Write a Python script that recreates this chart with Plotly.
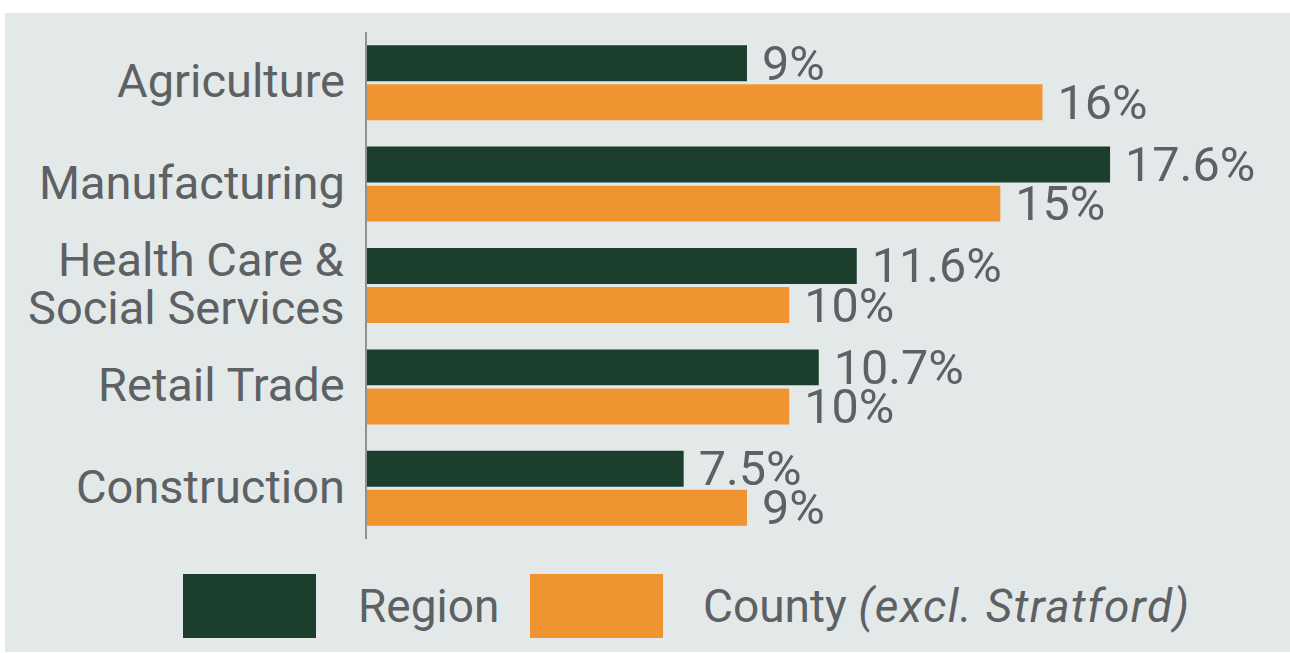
import plotly.graph_objects as go

categories = ["Agriculture", "Manufacturing", "Health Care &\nSocial Services", "Retail Trade", "Construction"]
region_values = [9, 17.6, 11.6, 10.7, 7.5]
county_values = [16, 15, 10, 10, 9]
series_names = ["Region", "County <span style=\"letter-spacing:1.4px\"><i>(excl. Stratford)</i></span>"]
series_colors = ["#1b3f2c", "#ef9430"]

W, H = 1290, 653
ML, MR, MT, MB = 367, 30, 32, 114
PW, PH = W - ML - MR, H - MT - MB
TEXT = "#5e6163"
FONT = "Roboto"

def px_x(p):
    return (p - ML) / PW

def px_y(p):
    return (H - MB - p) / PH

cat_ids = [c.replace("\n", " ") for c in categories]

fig = go.Figure()
for name, vals, col in zip(series_names, [region_values, county_values], series_colors):
    fig.add_trace(go.Bar(
        y=cat_ids, x=vals, orientation="h", name=name,
        marker=dict(color=col, line=dict(width=0)),
        text=[f" {v:g}%" for v in vals], textposition="outside",
        textfont=dict(family=FONT, size=48.5, color=TEXT),
        constraintext="none", cliponaxis=False, showlegend=False,
        hoverinfo="skip",
    ))

annotations = []
for cid, label in zip(cat_ids, categories):
    lines = label.split("\n")
    n = len(lines)
    for i, ln in enumerate(lines):
        shift = (-(i - (n - 1) / 2) * 48) + 2
        annotations.append(dict(
            x=0, y=cid, xref="x", yref="y", text=ln, showarrow=False,
            xanchor="right", yanchor="middle", xshift=-20, yshift=shift,
            font=dict(family=FONT, size=47, color=TEXT),
        ))

# legend (custom large swatches)
shapes = [dict(type="rect", xref="paper", yref="paper", layer="below",
               x0=px_x(5), x1=px_x(1290), y0=px_y(652), y1=px_y(13),
               fillcolor="#e3e9e9", line=dict(width=0))]
legend_swatch_x = [183, 530]
legend_text_x = [356, 701]
for name, col, sx, tx in zip(series_names, series_colors, legend_swatch_x, legend_text_x):
    shapes.append(dict(type="rect", xref="paper", yref="paper",
                       x0=px_x(sx), x1=px_x(sx + 133), y0=px_y(638), y1=px_y(574),
                       fillcolor=col, line=dict(width=0)))
    annotations.append(dict(x=px_x(tx), y=px_y(606), xref="paper", yref="paper",
                            text=name, showarrow=False, xanchor="left", yanchor="middle",
                            font=dict(family=FONT, size=46, color=TEXT)))

fig.update_layout(
    width=W, height=H,
    margin=dict(l=ML, r=MR, t=MT, b=MB),
    paper_bgcolor="white", plot_bgcolor="rgba(0,0,0,0)",
    barmode="group", bargap=0.23, bargroupgap=0.08,
    shapes=shapes, annotations=annotations,
    xaxis=dict(range=[0, PW / 42.22], visible=False, fixedrange=True),
    yaxis=dict(type="category", categoryorder="array", categoryarray=cat_ids,
               range=[4.5, -0.5], showticklabels=False, ticks="",
               showline=True, linecolor="#8f9292", linewidth=2,
               showgrid=False, zeroline=False, fixedrange=True),
    font=dict(family=FONT, color=TEXT),
)

fig.write_html("out.html", config={"displayModeBar": False},
               post_script="document.body.style.margin='0px';document.body.style.overflow='hidden';")
